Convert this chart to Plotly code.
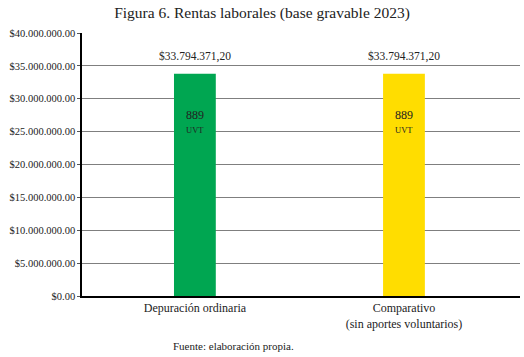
import plotly.graph_objects as go

categories = ["Depuración ordinaria", "Comparativo<br>(sin aportes voluntarios)"]
values = [33794371.20, 33794371.20]
value_labels = ["$33.794.371,20", "$33.794.371,20"]
uvt_values = ["889", "889"]
colors = ["#00A651", "#FFDD00"]
tick_vals = [0, 5e6, 10e6, 15e6, 20e6, 25e6, 30e6, 35e6, 40e6]
tick_text = ["$0.00", "$5.000.000.00", "$10.000.000.00", "$15.000.000.00", "$20.000.000.00",
             "$25.000.000.00", "$30.000.000.00", "$35.000.000.00", "$40.000.000.00"]

FONT = "Liberation Serif"
x = list(range(len(categories)))

fig = go.Figure()
fig.add_trace(go.Bar(x=x, y=values, marker=dict(color=colors, line=dict(width=0)),
                     width=0.2, hoverinfo="skip"))

for i in x:
    fig.add_annotation(x=i, y=values[i], text=value_labels[i], showarrow=False,
                       yshift=17, font=dict(family=FONT, size=11.5, color="#222"))
    fig.add_annotation(x=i, y=values[i], text=uvt_values[i], showarrow=False,
                       yshift=-41, font=dict(family=FONT, size=12, color="#222"))
    fig.add_annotation(x=i, y=values[i], text="UVT", showarrow=False,
                       yshift=-56, font=dict(family=FONT, size=8.5, color="#222"))

fig.add_annotation(xref="paper", yref="paper", x=0.345, y=-0.19, text="Fuente: elaboración propia.",
                   showarrow=False, yanchor="middle", xanchor="center",
                   font=dict(family=FONT, size=11, color="#222"))

fig.update_layout(
    width=524, height=357,
    margin=dict(l=82, r=4, t=33, b=61),
    paper_bgcolor="white", plot_bgcolor="white",
    font=dict(family=FONT, color="#222"),
    showlegend=False,
    title=dict(text="Figura 6. Rentas laborales (base gravable 2023)", x=0.5, xanchor="center",
               y=1 - 13 / 357, yanchor="middle", font=dict(family=FONT, size=15.5, color="#222")),
    xaxis=dict(tickvals=x, ticktext=categories, range=[-0.54, 1.555], automargin=False,
               showline=True, linecolor="black", linewidth=1.5, ticks="",
               tickfont=dict(family=FONT, size=12, color="#222"), showgrid=False, zeroline=False),
    yaxis=dict(range=[0, 40e6], tickvals=tick_vals, ticktext=tick_text, automargin=False,
               showline=True, linecolor="black", linewidth=1.5,
               ticks="outside", ticklen=3, tickcolor="#555",
               showgrid=True, gridcolor="#7f7f7f", gridwidth=1, zeroline=False,
               tickfont=dict(family=FONT, size=10.5, color="#222")),
)

fig.write_html("out.html", config={"displayModeBar": False},
               post_script="document.body.style.margin='0';")
